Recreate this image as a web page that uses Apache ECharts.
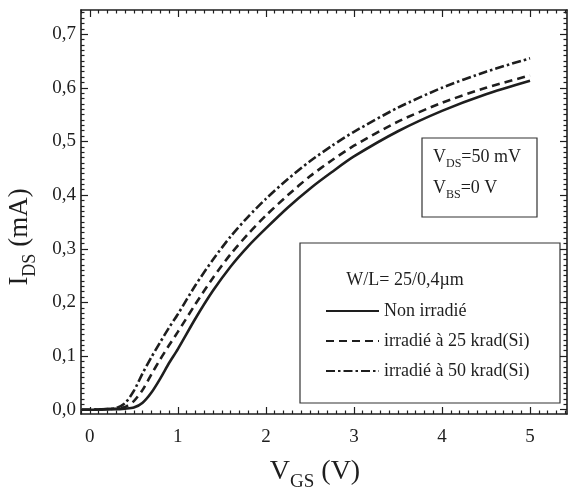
<!DOCTYPE html>
<html><head><meta charset="utf-8">
<script src="https://cdn.jsdelivr.net/npm/echarts@6/dist/echarts.min.js"></script>
<style>html,body{margin:0;padding:0;background:#fff}#c{width:572px;height:499px}</style>
</head><body><div id="c"></div>
<script>
// ---- data ----
const vgs    = [-0.09, 0, 0.2, 0.3, 0.4, 0.5, 0.6, 0.7, 0.8, 0.9, 1.0, 1.2, 1.4, 1.6, 1.8, 2.0, 2.25, 2.5, 2.75, 3.0, 3.5, 4.0, 4.5, 5.0];
const idsNon = [0, 0, 0.001, 0.001, 0.002, 0.004, 0.013, 0.032, 0.058, 0.087, 0.113, 0.170, 0.222, 0.267, 0.305, 0.338, 0.377, 0.412, 0.443, 0.472, 0.519, 0.557, 0.588, 0.613];
const ids25  = [0, 0, 0.001, 0.002, 0.005, 0.016, 0.037, 0.066, 0.094, 0.120, 0.145, 0.197, 0.246, 0.290, 0.328, 0.362, 0.400, 0.435, 0.465, 0.492, 0.537, 0.572, 0.600, 0.623];
const ids50  = [0, 0, 0.001, 0.003, 0.012, 0.035, 0.068, 0.098, 0.126, 0.153, 0.178, 0.232, 0.280, 0.323, 0.360, 0.393, 0.430, 0.463, 0.492, 0.518, 0.563, 0.600, 0.630, 0.655];
const seriesNames = ['Non irradié', 'irradié à 25 krad(Si)', 'irradié à 50 krad(Si)'];
const xTicks = [0, 1, 2, 3, 4, 5];
const xTickLabels = ['0', '1', '2', '3', '4', '5'];
const yTicks = [0, 0.1, 0.2, 0.3, 0.4, 0.5, 0.6, 0.7];
const yTickLabels = ['0,0', '0,1', '0,2', '0,3', '0,4', '0,5', '0,6', '0,7'];

const X_MIN = -0.1, X_MAX = 5.42, Y_MIN = -0.008, Y_MAX = 0.745;
const xMinor = []; for (let i = -1; i <= 54; i++) { if (i % 10 !== 0) xMinor.push(i / 10); }
const yMinor = []; for (let i = 0; i <= 74; i++) { if (i % 10 !== 0) yMinor.push(i / 100); }

const FONT = '"Liberation Serif", "DejaVu Serif", serif';
const INK = '#1e1e1e';

function axis(kind, pos, major, values, labels) {
  const a = {
    type: 'value', min: kind === 'x' ? X_MIN : Y_MIN, max: kind === 'x' ? X_MAX : Y_MAX,
    position: pos, splitLine: { show: false },
    axisLine: { show: major, onZero: false, lineStyle: { color: INK, width: 1.6 } },
    axisTick: { show: true, inside: true, length: major ? 7 : 3.5, customValues: values, lineStyle: { color: INK, width: 1.2 } },
    axisLabel: { show: false }
  };
  if (labels) {
    a.axisLabel = {
      show: true, customValues: values, color: INK, fontFamily: FONT, fontSize: 19,
      margin: kind === 'x' ? 14 : 5,
      formatter: v => { const i = values.findIndex(t => Math.abs(t - v) < 1e-9); return i >= 0 ? labels[i] : ''; }
    };
  }
  return a;
}

function pts(ys) { return vgs.map((v, i) => [v, ys[i]]); }

const subRich = (mSize, sSize, sLH) => ({
  m: { fontFamily: FONT, fontSize: mSize, lineHeight: mSize, verticalAlign: 'top', fill: INK },
  s: { fontFamily: FONT, fontSize: sSize, lineHeight: sLH, verticalAlign: 'bottom', fill: INK }
});

const chart = echarts.init(document.getElementById('c'), null, { renderer: 'canvas' });
const option = {
  backgroundColor: '#fff',
  animation: false,
  grid: { left: 81, right: 5, top: 10, bottom: 85, containLabel: false },
  xAxis: [
    axis('x', 'bottom', true, xTicks, xTickLabels),
    axis('x', 'bottom', false, xMinor),
    axis('x', 'top', true, xTicks),
    axis('x', 'top', false, xMinor)
  ],
  yAxis: [
    axis('y', 'left', true, yTicks, yTickLabels),
    axis('y', 'left', false, yMinor),
    axis('y', 'right', true, yTicks),
    axis('y', 'right', false, yMinor)
  ],
  legend: {
    orient: 'vertical', left: 320, top: 297, itemWidth: 53, itemHeight: 14, itemGap: 12,
    data: seriesNames,
    itemStyle: { opacity: 0 },
    textStyle: { fontFamily: FONT, fontSize: 18, color: INK }
  },
  series: [
    { name: seriesNames[0], type: 'line', data: pts(idsNon), symbol: 'none', smooth: 0.25,
      lineStyle: { color: INK, width: 2.6, type: 'solid' }, itemStyle: { color: INK } },
    { name: seriesNames[1], type: 'line', data: pts(ids25), symbol: 'none', smooth: 0.25,
      lineStyle: { color: INK, width: 2.6, type: [8, 5] }, itemStyle: { color: INK } },
    { name: seriesNames[2], type: 'line', data: pts(ids50), symbol: 'none', smooth: 0.25,
      lineStyle: { color: INK, width: 2.6, type: [9, 3, 2.5, 3] }, itemStyle: { color: INK } }
  ],
  graphic: [
    { type: 'rect', shape: { x: 422, y: 138, width: 115, height: 79 }, style: { fill: 'none', stroke: '#333', lineWidth: 1.2 } },
    { type: 'text', x: 433, y: 148, style: { text: '{m|V}{s|DS}{m|=50 mV}', rich: subRich(18, 12, 22) } },
    { type: 'text', x: 433, y: 179, style: { text: '{m|V}{s|BS}{m|=0 V}', rich: subRich(18, 12, 22) } },
    { type: 'rect', shape: { x: 300, y: 243, width: 260, height: 160 }, style: { fill: 'none', stroke: '#333', lineWidth: 1.2 } },
    { type: 'text', x: 405, y: 280, style: { text: 'W/L= 25/0,4µm', align: 'center', verticalAlign: 'middle', font: '18px ' + FONT, fill: INK } },
    { type: 'text', x: 315, y: 475, style: { text: '{m|V}{s|GS}{m| (V)}', align: 'center', verticalAlign: 'middle', rich: subRich(28, 19, 34) } },
    { type: 'text', x: 23, y: 237, rotation: Math.PI / 2, style: { text: '{m|I}{s|DS}{m| (mA)}', align: 'center', verticalAlign: 'middle', rich: subRich(27, 18, 33) } }
  ]
};
chart.setOption(option);
</script>
</body></html>
